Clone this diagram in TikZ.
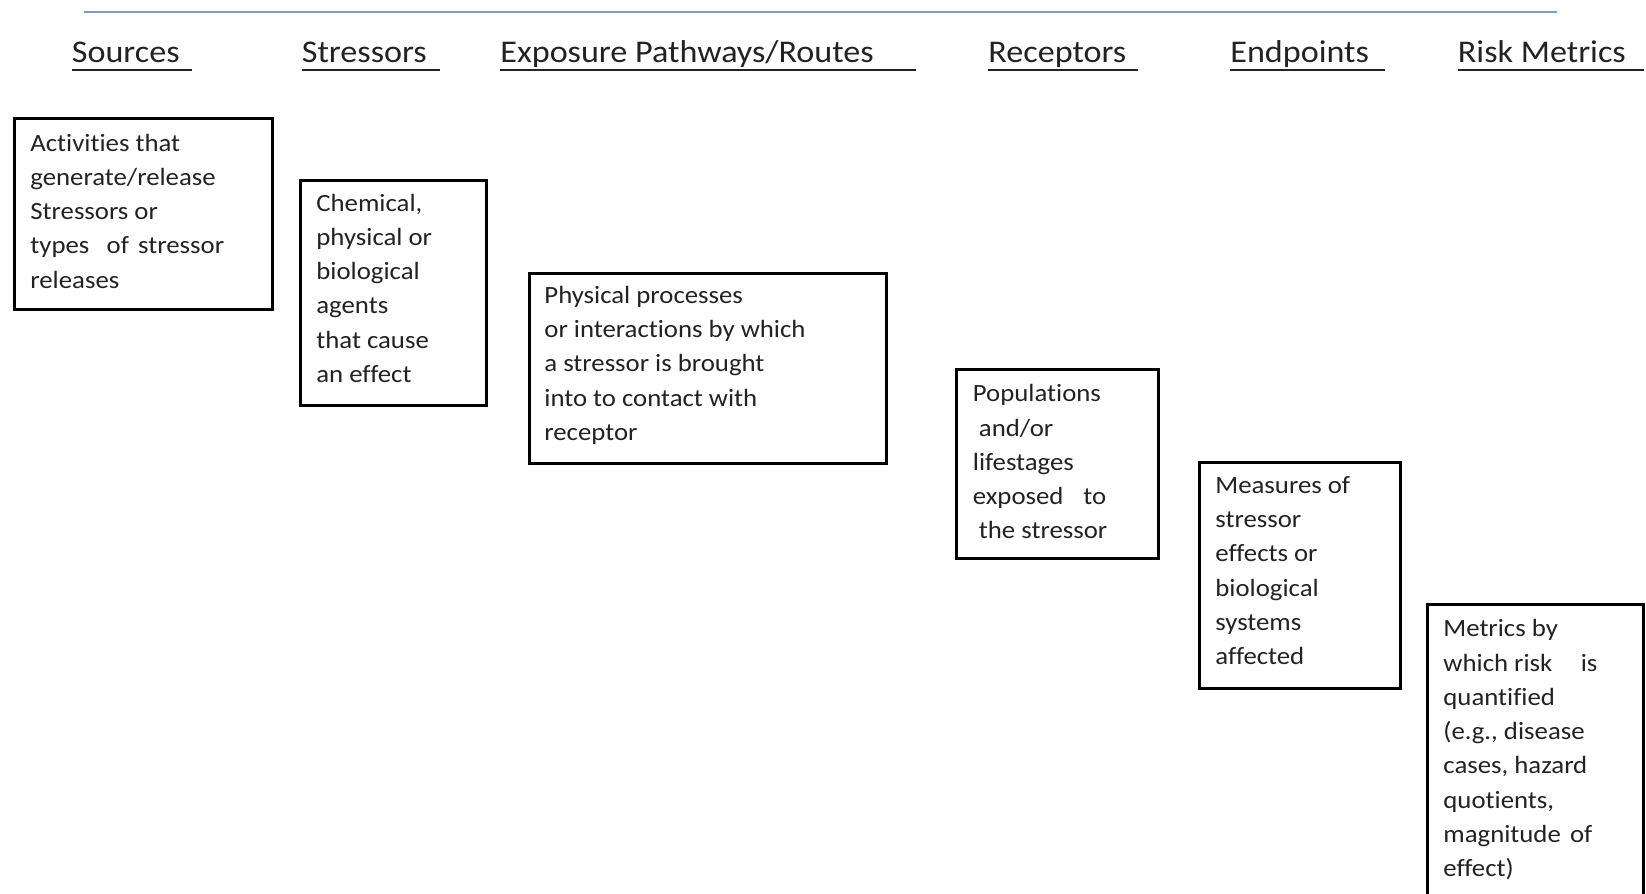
\documentclass[tikz,border=0pt]{standalone}
\usepackage{fontspec}
\setmainfont{Carlito}[FakeStretch=1.08,Ligatures=NoCommon]
\definecolor{topline}{RGB}{127,157,185}
\definecolor{ink}{RGB}{34,34,34}
\newcommand{\btxt}[1]{\begin{tabular}[t]{@{}l@{}}#1\end{tabular}}
\begin{document}
\begin{tikzpicture}[x=0.5pt,y=-0.5pt,
  hdr/.style={anchor=base west,inner sep=0pt,font=\fontsize{15.8}{19}\selectfont,text=ink},
  uline/.style={line width=1pt,draw=ink},
  boxnode/.style={draw=black,line width=1.5pt,anchor=north west,inner sep=0pt},
  txt/.style={anchor=base west,inner sep=0pt,font=\fontsize{12.4}{17.15}\selectfont,text=ink}]
\useasboundingbox (0,0) rectangle (1646,894);
\clip (0,0) rectangle (1646,894);
% top rule
\coordinate (tl) at (84,12);
\coordinate (tr) at (1557,12);
\draw[topline,line width=1pt] (tl) -- (tr);
% headers
\node[hdr] (h1) at (71.5,62) {Sources};
\node[hdr] (h2) at (301.5,62) {Stressors};
\node[hdr] (h3) at (500,62) {Exposure Pathways/Routes};
\node[hdr] (h4) at (988,62) {Receptors};
\node[hdr] (h5) at (1230,62) {Endpoints};
\node[hdr] (h6) at (1457.5,62) {Risk Metrics};
\coordinate (u1) at (192,70);
\coordinate (u2) at (440,70);
\coordinate (u3) at (916,70);
\coordinate (u4) at (1138,70);
\coordinate (u5) at (1384.5,70);
\coordinate (u6) at (1644,70);
\foreach \i in {1,...,6}{\draw[uline] (h\i.base west |- u\i) -- (u\i);}
% boxes
\node[boxnode,minimum width=129.15pt,minimum height=95.65pt] (b1) at (12.7,116.7) {};
\node[boxnode,minimum width=92.85pt,minimum height=112.5pt] (b2) at (299.3,179) {};
\node[boxnode,minimum width=178.5pt,minimum height=95pt] (b3) at (527.7,271.7) {};
\node[boxnode,minimum width=100.75pt,minimum height=94.5pt] (b4) at (955,368.3) {};
\node[boxnode,minimum width=100.65pt,minimum height=113pt] (b5) at (1197.7,460.7) {};
\node[boxnode,minimum width=107.85pt,minimum height=170pt] (b6) at (1426,603.3) {};
% texts
\node[txt] (t1) at (30,151) {\btxt{Activities that\\generate/release\\Stressors or\\types\hspace{0.7em}of\hspace{0.37em}stressor\\releases}};
\node[txt] (t2) at (316,211) {\btxt{Chemical,\\physical or\\biological\\agents\\that cause\\an effect}};
\node[txt] (t3) at (544,303.3) {\btxt{Physical processes\\or interactions by which\\a stressor is brought\\into to contact with\\receptor}};
\node[txt] (t4) at (972.5,401.7) {\btxt{Populations\\\ and/or\\lifestages\\exposed\hspace{0.8em}to\\\ the stressor}};
\node[txt] (t5) at (1215,493.3) {\btxt{Measures of\\stressor\\effects or\\biological\\systems\\affected}};
\node[txt] (t6) at (1443,636.7) {\btxt{Metrics by\\which risk\hspace{1.15em}is\\quantified\\(e.g., disease\\cases, hazard\\quotients,\\magnitude\hspace{0.37em}of\\effect)}};
\end{tikzpicture}
\end{document}
